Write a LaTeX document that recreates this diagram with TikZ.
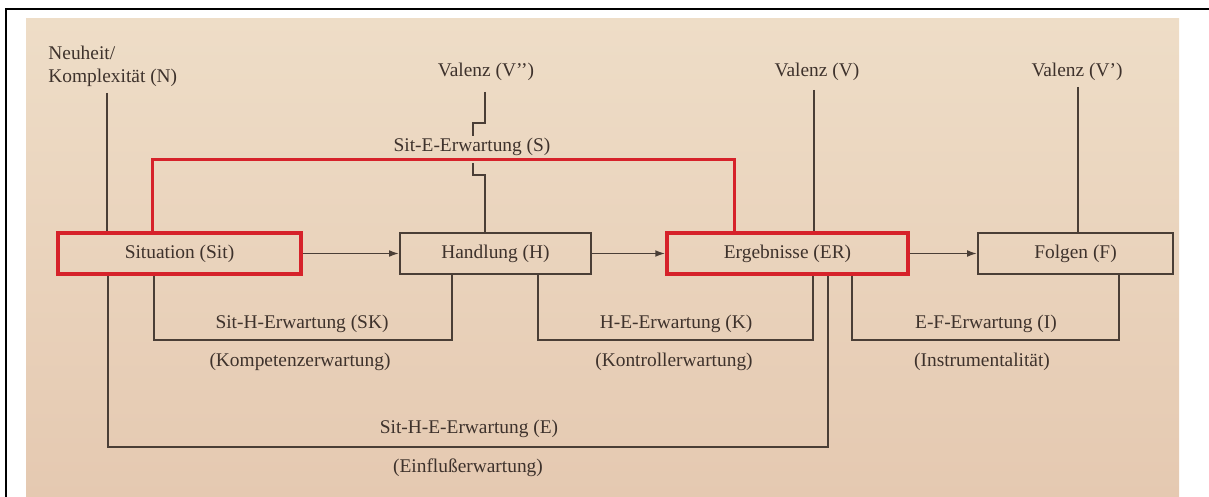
\documentclass[tikz,border=0pt]{standalone}
\usepackage{fontspec}
\setmainfont{Liberation Serif}
\usetikzlibrary{arrows.meta}
\definecolor{ink}{RGB}{62,50,44}
\definecolor{lineink}{RGB}{74,62,54}
\definecolor{redline}{RGB}{214,34,42}
\definecolor{bgtop}{RGB}{238,221,199}
\definecolor{bgbot}{RGB}{229,201,177}
\tikzset{
  txt/.style={font=\fontsize{9.7}{11.5}\selectfont, text=ink},
  lbl/.style={txt, inner sep=0pt},
  graybox/.style={txt, draw=lineink, line width=0.9pt, inner sep=0pt, minimum height=20.5pt},
  redbox/.style={txt, draw=redline, line width=1.7pt, inner sep=0pt, minimum height=20.5pt},
  ln/.style={draw=lineink, line width=0.85pt},
  redln/.style={draw=redline, line width=1.5pt},
  arr/.style={ln, -{Latex[length=5pt,width=3.4pt]}}
}
\begin{document}
\begin{tikzpicture}[x=0.5pt,y=-0.5pt]
\useasboundingbox (0,0) rectangle (1209,497);
% page photo background
\shade[top color=bgtop, bottom color=bgbot] (26,19) rectangle (1179,497);
\draw[black, line width=1pt] (6,497) -- (6,9) -- (1209,9);

% incoming-line free ends
\coordinate (nTop)   at (107,93);
\coordinate (vppTop) at (485,92);
\coordinate (vTop)   at (814,90);
\coordinate (vpTop)  at (1078,87);

% box positions
\path (179.5,253.5) coordinate (sitC) (495.5,253.5) coordinate (handC)
      (787.5,253.5) coordinate (ergC) (1075.5,253.5) coordinate (folgC);

% boxes
\node[redbox,  minimum width=121.5pt] (sit)  at (sitC)  {Situation (Sit)};
\node[graybox, minimum width=95.5pt]  (hand) at (handC) {Handlung (H)};
\node[redbox,  minimum width=120.5pt] (erg)  at (ergC)  {Ergebnisse (ER)};
\node[graybox, minimum width=97.5pt]  (folg) at (folgC) {Folgen (F)};

% top labels
\node[lbl, anchor=north west, align=left] (neu) at (48,45.5) {Neuheit/\\Komplexität (N)};
\node[lbl, anchor=base] (vpp) at (486,77) {Valenz (V’’)};
\node[lbl, anchor=base] (v)   at (817,77) {Valenz (V)};
\node[lbl, anchor=base] (vp)  at (1077,77) {Valenz (V’)};
\node[lbl, anchor=base] (sitE) at (472,152) {Sit-E-Erwartung (S)};

% bottom labels
\node[lbl, anchor=base] (sitH)  at (302,328) {Sit-H-Erwartung (SK)};
\node[lbl, anchor=base] (komp)  at (300,366) {(Kompetenzerwartung)};
\node[lbl, anchor=base] (hE)    at (676,328) {H-E-Erwartung (K)};
\node[lbl, anchor=base] (kontr) at (674,366) {(Kontrollerwartung)};
\node[lbl, anchor=base] (eF)    at (986,328) {E-F-Erwartung (I)};
\node[lbl, anchor=base] (instr) at (982,366) {(Instrumentalität)};
\node[lbl, anchor=base] (sitHE) at (469,433) {Sit-H-E-Erwartung (E)};
\node[lbl, anchor=base] (einf)  at (468,472) {(Einflußerwartung)};

% incoming lines from the top
\draw[ln] (nTop) -- (nTop |- sit.north);
\draw[ln] (vppTop) -- (485,123) -- (473,123) -- (473,136);
\draw[ln] (473,163) -- (473,175) -- (485,175) -- (485,0 |- hand.north);
\draw[ln] (vTop) -- (vTop |- erg.north);
\draw[ln] (vpTop) -- (vpTop |- folg.north);

% red Sit-E connection
\draw[redln] (152,0 |- sit.north) -- (152,160) -- (734,160) -- (734,0 |- erg.north);

% arrows
\draw[arr] (sit.east) -- (hand.west);
\draw[arr] (hand.east) -- (erg.west);
\draw[arr] (erg.east) -- (folg.west);

% brackets below
\draw[ln] (154,0 |- sit.south) |- (452,340) -- (452,0 |- hand.south);
\draw[ln] (538,0 |- hand.south) |- (813,340) -- (813,0 |- erg.south);
\draw[ln] (852,0 |- erg.south) |- (1119,340) -- (1119,0 |- folg.south);
\draw[ln] (108,0 |- sit.south) |- (828,447) -- (828,0 |- erg.south);
\end{tikzpicture}
\end{document}
